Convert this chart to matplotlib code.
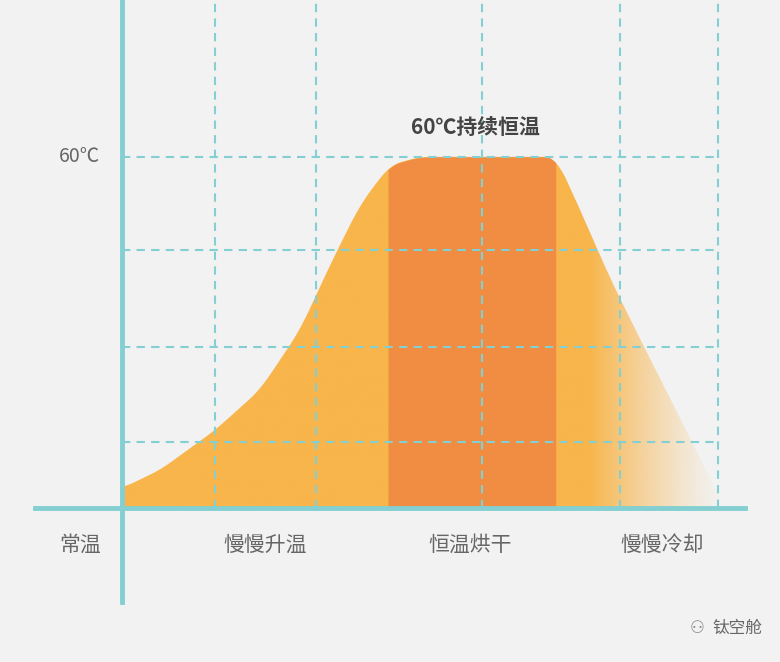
import numpy as np
import matplotlib.pyplot as plt
from matplotlib.path import Path
from matplotlib.patches import PathPatch

plt.rcParams['font.family'] = ['Noto Sans CJK SC', 'DejaVu Sans']

# ------------------------
# Data (x = time position, y = temperature in ℃)
# ------------------------
time = [122, 160, 215, 260, 300, 330, 360, 390, 420, 556, 580, 610, 640, 670, 700, 725]
temp = [3.4, 6.5, 13.3, 20.2, 30.4, 41.5, 51.8, 58.6, 60, 60, 51, 39.3, 28.9, 18.8, 8.5, 0]
hold_start, hold_end = 387, 556
grid_temps = [60, 44.1, 27.5, 11.3]
grid_times = [215, 316, 482, 620, 718]
phase_labels = ["常温", "慢慢升温", "恒温烘干", "慢慢冷却"]
phase_pos = [80, 265, 470, 662]

BG = "#f2f2f2"
TEAL = "#84cfd2"
LIGHT = "#f8b54b"
DARK = "#f08d42"

fig = plt.figure(figsize=(7.8, 6.62), dpi=100, facecolor=BG)
ax = fig.add_axes([0, 0, 1, 1], facecolor=BG)
ax.set_xlim(0, 780)
ax.set_ylim(-26.3, 86.8)
ax.axis("off")

# smooth curve
xs = np.linspace(time[0], time[-1], 400)
ys = np.interp(xs, time, temp)
k = np.ones(15) / 15
ys_s = np.convolve(np.pad(ys, 7, mode="edge"), k, mode="valid")
ys_s = np.minimum(ys_s, 60)

# light fill with fading gradient to the right
verts = [(xs[0], 0)] + list(zip(xs, ys_s)) + [(xs[-1], 0)]
poly = PathPatch(Path(verts), facecolor="none", edgecolor="none")
ax.add_patch(poly)
gx = np.linspace(0, 1, 300)
xg = np.linspace(time[0], time[-1], 300)
alpha = np.clip((725 - xg) / (725 - 590), 0, 1) ** 1.3
rgba = np.zeros((1, 300, 4))
rgba[..., :3] = np.array([0xf8, 0xb5, 0x4b]) / 255
rgba[0, :, 3] = alpha
im = ax.imshow(rgba, extent=[time[0], time[-1], 0, 62], aspect="auto", zorder=1)
im.set_clip_path(poly)

# constant temperature band
mask = (xs >= hold_start) & (xs <= hold_end)
ax.fill_between(xs[mask], 0, ys_s[mask], color=DARK, lw=0, zorder=2)

# grid
for g in grid_temps:
    ax.plot([122, 720], [g, g], ls=(0, (4, 3)), color=TEAL, lw=1.5, zorder=3)
for g in grid_times:
    ax.plot([g, g], [0, 86.8], ls=(0, (4, 3)), color=TEAL, lw=1.5, zorder=3)

# axes
ax.plot([122, 122], [-16, 86.8], color=TEAL, lw=3.5, zorder=4)
ax.plot([35, 745], [0, 0], color=TEAL, lw=3.5, zorder=4)

ax.text(80, 60, "60℃", fontsize=14, color="#666666", ha="center", va="center")
ax.text(475, 65, "60℃持续恒温", fontsize=15, color="#444444", ha="center", va="center", weight="bold")
for lab, p in zip(phase_labels, phase_pos):
    ax.text(p, -6.3, lab, fontsize=15, color="#666666", ha="center", va="center")
ax.text(737, -20.5, "钛空舱", fontsize=12, color="#666666", ha="center", va="center")
ax.text(697, -20.5, "⚇", fontsize=12, color="#888888", ha="center", va="center", family="DejaVu Sans")

fig.savefig("out.png", dpi=100, facecolor=BG)
